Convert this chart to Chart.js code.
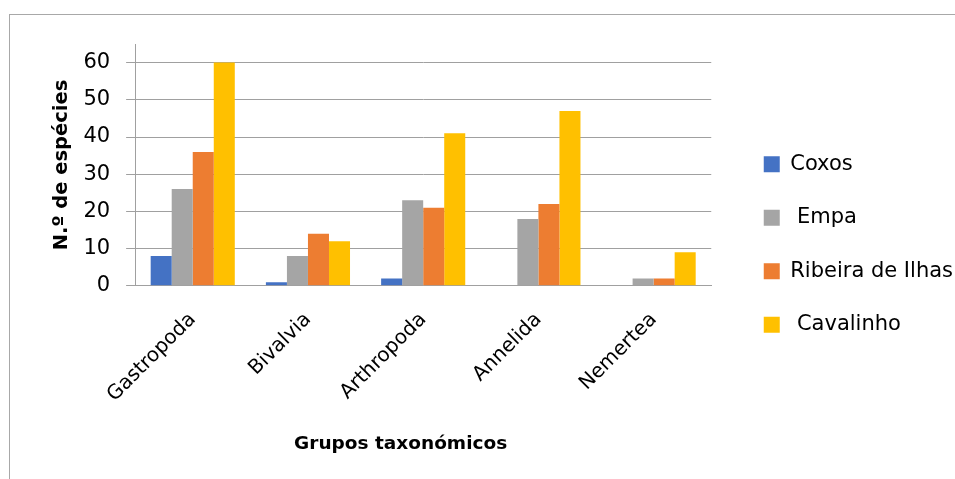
<!DOCTYPE html>
<html>
<head>
<meta charset="utf-8">
<script src="https://cdn.jsdelivr.net/npm/chart.js@4.4.1/dist/chart.umd.min.js"></script>
<style>
html,body{margin:0;padding:0;background:#fff;overflow:hidden;}
#frame{position:absolute;left:9px;top:14px;width:1200px;height:1000px;border:1px solid #a8a8a8;}
#wrap{position:absolute;left:0;top:0;width:955px;height:479px;}
</style>
</head>
<body>
<div id="frame"></div>
<div id="wrap"><canvas id="c" width="955" height="479"></canvas></div>
<script>
const categories = ['Gastropoda', 'Bivalvia', 'Arthropoda', 'Annelida', 'Nemertea'];
const seriesNames = ['Coxos', ' Empa', 'Ribeira de Ilhas', ' Cavalinho'];
const coxos = [8, 1, 2, 0, 0];
const empa = [26, 8, 23, 18, 2];
const ribeiraDeIlhas = [36, 14, 21, 22, 2];
const cavalinho = [60, 12, 41, 47, 9];
const yTicks = [0, 10, 20, 30, 40, 50, 60];
const yAxisTitle = 'N.º de espécies';
const xAxisTitle = 'Grupos taxonómicos';

const colors = ['#4472C4', '#A5A5A5', '#ED7D31', '#FFC000'];
const values = [coxos, empa, ribeiraDeIlhas, cavalinho];
const FONT = '"DejaVu Sans", sans-serif';

// shifts the legend to leave a wider gap between plot and legend
const legendShift = {
  id: 'legendShift',
  afterLayout(chart) {
    const lg = chart.legend;
    if (!lg) return;
    lg.left += 20; lg.right += 20;
    lg.top -= 5; lg.bottom -= 5;
  }
};

new Chart(document.getElementById('c'), {
  type: 'bar',
  data: {
    labels: categories,
    datasets: seriesNames.map((n, i) => ({
      label: n,
      data: values[i],
      backgroundColor: colors[i],
      borderWidth: 0,
      categoryPercentage: 0.73,
      barPercentage: 1.0
    }))
  },
  options: {
    responsive: false,
    animation: false,
    devicePixelRatio: 1,
    layout: { padding: { left: 46, top: 44, right: 22, bottom: 24 } },
    plugins: {
      tooltip: { enabled: false },
      legend: {
        position: 'right',
        labels: {
          boxWidth: 16,
          boxHeight: 16,
          padding: 32.5,
          color: '#000',
          font: { family: FONT, size: 21 }
        }
      }
    },
    scales: {
      x: {
        grid: { display: false },
        border: { display: true, color: '#a0a0a0', width: 1 },
        ticks: {
          color: '#000',
          font: { family: FONT, size: 20 },
          minRotation: 45,
          maxRotation: 45,
          autoSkip: false,
          padding: 14
        },
        title: {
          display: true,
          text: xAxisTitle + '\u00A0\u00A0\u00A0\u00A0\u00A0\u00A0\u00A0',
          color: '#000',
          font: { family: FONT, size: 18.5, weight: 'bold' },
          padding: { top: 12, bottom: 0 }
        }
      },
      y: {
        min: 0,
        max: 65,
        afterBuildTicks: (axis) => { axis.ticks = yTicks.map(v => ({ value: v })); },
        grid: { color: '#a0a0a0', lineWidth: 1, tickLength: 9, drawTicks: true },
        border: { display: true, color: '#a0a0a0', width: 1 },
        ticks: {
          color: '#000',
          font: { family: FONT, size: 21 },
          padding: 16
        },
        title: {
          display: true,
          text: yAxisTitle,
          color: '#000',
          font: { family: FONT, size: 19.5, weight: 'bold' },
          padding: { top: 4, bottom: -6 }
        }
      }
    }
  },
  plugins: [legendShift]
});
</script>
</body>
</html>
